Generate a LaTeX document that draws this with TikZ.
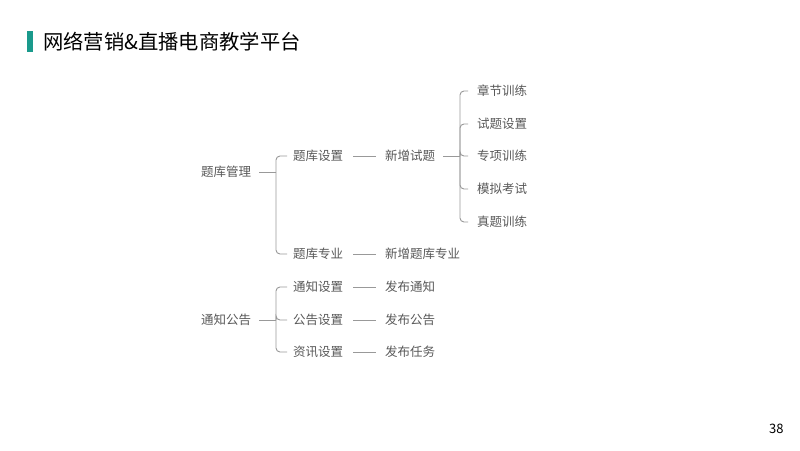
\documentclass[tikz,border=0pt]{standalone}
\usepackage{fontspec}
\setmainfont{Noto Sans CJK SC}
\usepackage{xcolor}
\usepackage{tikz}
\usetikzlibrary{calc}
\usetikzlibrary{positioning}
\definecolor{titleteal}{HTML}{1A9A8C}
\definecolor{txtgray}{HTML}{595959}
\definecolor{linegray}{HTML}{999999}

\begin{document}
\begin{tikzpicture}[
  x=1pt, y=-1pt,
  every node/.style={inner sep=0pt,anchor=west,text=txtgray,font=\fontsize{12.5}{14}\selectfont},
  conn/.style={draw=linegray,line width=0.9pt},
  bra/.style={conn,rounded corners=4pt}
]
  \useasboundingbox[fill=white] (0,0) rectangle (800,450);

  % title
  \fill[titleteal] (27,31) rectangle (33,52);
  \node[text=black,font=\fontsize{20.3}{23}\selectfont] (title) at (43,42) {网络营销\&直播电商教学平台};
  \node[text=black,font=\fontsize{13}{15}\selectfont] (page) at (769,429) {38};

  % first tree
  \node (tk)   at (201,172) {题库管理};
  \node (tksz) at (293,156) {题库设置};
  \node (tkzy) at (293,254) {题库专业};
  \node (xzst) at (385,156) {新增试题};
  \node (xztk) at (385,254) {新增题库专业};
  \node (c1) at (477,91)  {章节训练};
  \node (c2) at (477,124) {试题设置};
  \node (c3) at (477,156) {专项训练};
  \node (c4) at (477,189) {模拟考试};
  \node (c5) at (477,222) {真题训练};

  \coordinate (b1) at (276,172);
  \coordinate (b2) at (460,156);
  \draw[conn] ([xshift=8pt]tk.east) -- (b1);
  \foreach \n in {tksz,tkzy}
    \draw[bra] (b1) |- ([xshift=-6pt]\n.west);
  \draw[conn] ([xshift=10pt]tksz.east) -- ([xshift=-9pt]xzst.west);
  \draw[conn] ([xshift=10pt]tkzy.east) -- ([xshift=-9pt]xztk.west);
  \draw[conn] ([xshift=8pt]xzst.east) -- (b2);
  \foreach \n in {c1,c2,c3,c4,c5}
    \draw[bra] (b2) |- ([xshift=-9pt]\n.west);

  % second tree
  \node (tz)   at (201,320) {通知公告};
  \node (tzsz) at (293,287) {通知设置};
  \node (ggsz) at (293,320) {公告设置};
  \node (zxsz) at (293,352) {资讯设置};
  \node (fbtz) at (385,287) {发布通知};
  \node (fbgg) at (385,320) {发布公告};
  \node (fbrw) at (385,352) {发布任务};

  \coordinate (b3) at (276,320);
  \draw[conn] ([xshift=8pt]tz.east) -- (b3);
  \foreach \n/\m in {tzsz/fbtz,ggsz/fbgg,zxsz/fbrw}{
    \draw[bra] (b3) |- ([xshift=-6pt]\n.west);
    \draw[conn] ([xshift=10pt]\n.east) -- ([xshift=-9pt]\m.west);
  }
\end{tikzpicture}
\end{document}
